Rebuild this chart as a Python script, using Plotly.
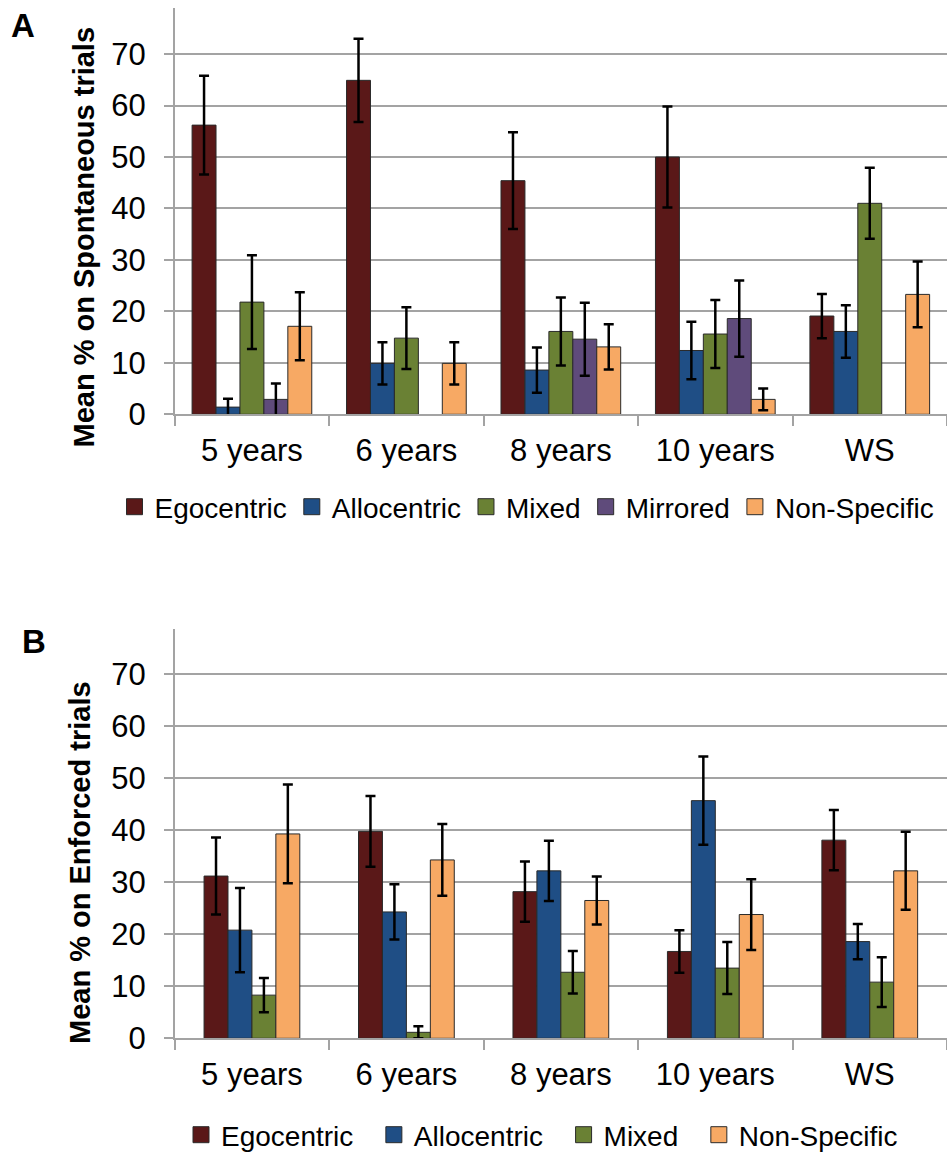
import plotly.graph_objects as go

categories = ["5 years", "6 years", "8 years", "10 years", "WS"]

# Panel A: Spontaneous trials
a_series = ["Egocentric", "Allocentric", "Mixed", "Mirrored", "Non-Specific"]
a_ego = [56.2, 64.9, 45.4, 50.0, 19.1]
a_ego_err = [9.6, 8.1, 9.4, 9.8, 4.3]
a_allo = [1.4, 9.9, 8.6, 12.4, 16.1]
a_allo_err = [1.6, 4.1, 4.4, 5.6, 5.1]
a_mixed = [21.8, 14.8, 16.1, 15.6, 41.0]
a_mixed_err = [9.1, 6.0, 6.6, 6.6, 6.9]
a_mirror = [2.9, None, 14.6, 18.6, None]
a_mirror_err = [3.1, None, 7.1, 7.4, None]
a_nonspec = [17.1, 9.9, 13.1, 2.9, 23.3]
a_nonspec_err = [6.6, 4.1, 4.4, 2.1, 6.4]

# Panel B: Enforced trials
b_series = ["Egocentric", "Allocentric", "Mixed", "Non-Specific"]
b_ego = [31.2, 39.8, 28.2, 16.7, 38.1]
b_ego_err = [7.4, 6.8, 5.8, 4.1, 5.8]
b_allo = [20.8, 24.3, 32.2, 45.7, 18.6]
b_allo_err = [8.1, 5.3, 5.8, 8.5, 3.4]
b_mixed = [8.3, 1.15, 12.7, 13.5, 10.8]
b_mixed_err = [3.3, 1.15, 4.1, 5.0, 4.8]
b_nonspec = [39.3, 34.3, 26.5, 23.8, 32.2]
b_nonspec_err = [9.5, 6.9, 4.6, 6.8, 7.5]

ytick_vals = [0, 10, 20, 30, 40, 50, 60, 70]

colors = {
    "Egocentric": "#5a1818",
    "Allocentric": "#1f4e85",
    "Mixed": "#6a8134",
    "Mirrored": "#5f4b7b",
    "Non-Specific": "#f7a964",
}

FONT = "Liberation Sans, Arial, sans-serif"
GRID = "#a3a3a3"
W, H = 947, 1156

fig = go.Figure()

a_vals = [(a_ego, a_ego_err), (a_allo, a_allo_err), (a_mixed, a_mixed_err),
          (a_mirror, a_mirror_err), (a_nonspec, a_nonspec_err)]
b_vals = [(b_ego, b_ego_err), (b_allo, b_allo_err), (b_mixed, b_mixed_err),
          (b_nonspec, b_nonspec_err)]

BAR_W = 0.155

def add_panel(names, vals, xa, ya, legend, pad):
    n = len(names)
    start = -n * BAR_W / 2
    for i, (name, (v, e)) in enumerate(zip(names, vals)):
        fig.add_trace(go.Bar(
            x=categories, y=v, name=name, xaxis=xa, yaxis=ya,
            width=BAR_W, offset=start + i * BAR_W,
            marker=dict(color=colors[name], line=dict(color="#2a2a2a", width=1)),
            error_y=dict(type="data", array=e, visible=True, color="black",
                         thickness=2.5, width=5),
            showlegend=False,
        ))
    for i, name in enumerate(names):
        label = name + ("" if i == n - 1 else pad)
        fig.add_trace(go.Scatter(
            x=[None], y=[None], mode="markers", name=label, xaxis=xa, yaxis=ya,
            marker=dict(symbol="square", size=16, color=colors[name],
                        line=dict(color="#2a2a2a", width=1)),
            legend=legend, showlegend=True,
        ))

add_panel(a_series, a_vals, "x", "y", "legend", "")
add_panel(b_series, b_vals, "x2", "y2", "legend2", "\u00a0\u00a0")

def px_x(p):
    return p / W

def px_y(p):
    return 1 - p / H

xdom = [px_x(174.7), 1.0]
xcommon = dict(
    type="category", showline=True, linecolor=GRID, linewidth=1.5,
    ticks="outside", tickson="boundaries", ticklen=10, tickcolor=GRID, tickwidth=1.5,
    tickfont=dict(family=FONT, size=31, color="black"), showgrid=False,
    ticklabelstandoff=8, automargin=False,
)
ycommon = dict(
    showline=True, linecolor=GRID, linewidth=1.5, showgrid=True, gridcolor=GRID,
    gridwidth=1.5, zeroline=False, ticks="outside", ticklen=9, tickcolor=GRID,
    tickwidth=1.5, tickvals=ytick_vals, tickfont=dict(family=FONT, size=31, color="black"),
    ticklabelstandoff=12, automargin=False,
)

fig.update_layout(
    width=W, height=H, margin=dict(l=0, r=0, t=0, b=0, autoexpand=False),
    paper_bgcolor="white", plot_bgcolor="white",
    barmode="group",
    xaxis=dict(domain=xdom, anchor="y", **xcommon),
    yaxis=dict(domain=[px_y(414.3), px_y(8.3)], anchor="x", range=[0, 78.9], **ycommon),
    xaxis2=dict(domain=xdom, anchor="y2", **xcommon),
    yaxis2=dict(domain=[px_y(1038.3), px_y(629.3)], anchor="x2", range=[0, 78.65], **ycommon),
    legend=dict(orientation="h", x=px_x(527), xanchor="center", y=px_y(507), yanchor="middle",
                font=dict(family=FONT, size=28, color="black"), bgcolor="rgba(0,0,0,0)"),
    legend2=dict(orientation="h", x=px_x(542), xanchor="center", y=px_y(1135), yanchor="middle",
                 font=dict(family=FONT, size=28, color="black"), bgcolor="rgba(0,0,0,0)"),
    font=dict(family=FONT, color="black"),
)

annotations = [
    dict(text="<b>A</b>", x=px_x(22.5), y=px_y(25), xref="paper", yref="paper",
         xanchor="center", yanchor="middle",
         showarrow=False, font=dict(family=FONT, size=33, color="black")),
    dict(text="<b>B</b>", x=px_x(33.5), y=px_y(641), xref="paper", yref="paper",
         xanchor="center", yanchor="middle",
         showarrow=False, font=dict(family=FONT, size=33, color="black")),
    dict(text="<b>Mean % on Spontaneous trials</b>", x=px_x(83), y=px_y(237.5),
         xref="paper", yref="paper", showarrow=False, textangle=-90,
         xanchor="center", yanchor="middle",
         font=dict(family=FONT, size=29, color="black")),
    dict(text="<b>Mean % on Enforced trials</b>", x=px_x(80), y=px_y(863),
         xref="paper", yref="paper", showarrow=False, textangle=-90,
         xanchor="center", yanchor="middle",
         font=dict(family=FONT, size=29, color="black")),
]
fig.update_layout(annotations=annotations)

fig.write_html("out.html", config={"displayModeBar": False},
               post_script="document.body.style.margin='0';document.body.style.padding='0';")
